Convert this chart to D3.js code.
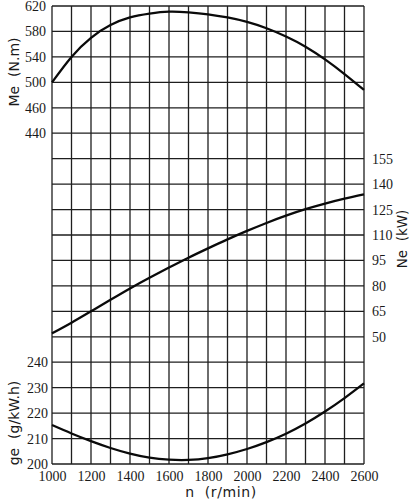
<!DOCTYPE html>
<html>
<head>
<meta charset="utf-8">
<script src="https://cdn.jsdelivr.net/npm/d3@7"></script>
<style>
  body { margin: 0; background: #fff; }
  svg { display: block; }
  .title { font-family: "DejaVu Sans", sans-serif; font-size: 14px; fill: #1a1a1a; white-space: pre; }
</style>
</head>
<body>
<svg id="chart"></svg>
<script>
const rpm = [1000, 1100, 1200, 1300, 1400, 1500, 1600, 1700, 1800, 1900, 2000, 2100, 2200, 2300, 2400, 2500, 2600];
const torque = [500, 540, 570, 590, 602, 608, 611, 610, 607, 602, 595, 585, 572, 556, 536, 513, 488];
const power = [52, 58.3, 65, 71.8, 78.5, 84.8, 90.8, 96.6, 102.1, 107.4, 112.4, 117.1, 121.4, 125.2, 128.5, 131.4, 134];
const fuel = [215.3, 212.0, 209.0, 206.3, 204.1, 202.5, 201.7, 201.6, 202.3, 203.8, 205.9, 208.6, 211.9, 215.9, 220.6, 225.9, 231.7];

const xTicks = [1000, 1200, 1400, 1600, 1800, 2000, 2200, 2400, 2600];
const meTicks = [620, 580, 540, 500, 460, 420];
const meTickLabels = ["620", "580", "540", "500", "460", "440"];
const neTicks = [155, 140, 125, 110, 95, 80, 65, 50];
const geTicks = [240, 230, 220, 210, 200];

const width = 410;
const height = 501;
const pLeft = 52, pRight = 364, pTop = 6, pBottom = 464;
const rows = 18;

const svg = d3.select("#chart").attr("width", width).attr("height", height);

const x = d3.scaleLinear().domain([1000, 2600]).range([pLeft, pRight]);
const yRow = d3.scaleLinear().domain([0, rows]).range([pTop, pBottom]);
// each row: 40 N.m, 15 kW, 10 g/kW.h
const yMe = d3.scaleLinear().domain([620, 620 - 40 * rows]).range([pTop, pBottom]);
const yNe = d3.scaleLinear().domain([155 + 15 * 6, 155 - 15 * 12]).range([pTop, pBottom]);
const yGe = d3.scaleLinear().domain([200 + 10 * rows, 200]).range([pTop, pBottom]);

// grid
const grid = svg.append("g").attr("stroke", "#1e1e1e").attr("stroke-width", 1.3);
grid.selectAll(".v")
  .data(d3.range(1000, 2601, 100))
  .enter()
  .append("line")
  .attr("x1", (d) => x(d))
  .attr("x2", (d) => x(d))
  .attr("y1", pTop)
  .attr("y2", pBottom);
grid.selectAll(".h")
  .data(d3.range(0, rows + 1))
  .enter()
  .append("line")
  .attr("x1", pLeft)
  .attr("x2", pRight)
  .attr("y1", (d) => yRow(d))
  .attr("y2", (d) => yRow(d));

// axes (labels only)
function clean(g) {
  g.select(".domain").remove();
  g.selectAll(".tick line").remove();
  g.selectAll(".tick text")
    .style("font-family", "'Liberation Serif', 'DejaVu Serif', serif")
    .style("font-size", "14px")
    .attr("fill", "#1a1a1a");
}

svg.append("g")
  .attr("transform", "translate(0," + (pBottom + 2) + ")")
  .call(d3.axisBottom(x).tickValues(xTicks).tickSize(0).tickPadding(5).tickFormat(d3.format("d")))
  .call(clean);

svg.append("g")
  .attr("transform", "translate(" + (pLeft - 6) + ",0)")
  .call(d3.axisLeft(yMe).tickValues(meTicks).tickSize(0).tickPadding(0).tickFormat((d, i) => meTickLabels[i]))
  .call(clean);

svg.append("g")
  .attr("transform", "translate(" + (pLeft - 4) + ",0)")
  .call(d3.axisLeft(yGe).tickValues(geTicks).tickSize(0).tickPadding(0))
  .call(clean);

svg.append("g")
  .attr("transform", "translate(" + (pRight + 8) + ",0)")
  .call(d3.axisRight(yNe).tickValues(neTicks).tickSize(0).tickPadding(0))
  .call(clean);

// curves
const line = (yScale, values) =>
  d3.line()
    .x((d, i) => x(rpm[i]))
    .y((d) => yScale(d))
    .curve(d3.curveNatural)(values);

[[yMe, torque], [yNe, power], [yGe, fuel]].forEach(([s, v]) => {
  svg.append("path")
    .attr("d", line(s, v))
    .attr("fill", "none")
    .attr("stroke", "#0a0a0a")
    .attr("stroke-width", 2.3);
});

// titles
svg.append("text").attr("class", "title")
  .attr("transform", "translate(19,72) rotate(-90)")
  .attr("text-anchor", "middle")
  .text("Me  (N.m)");

svg.append("text").attr("class", "title")
  .attr("transform", "translate(19,423) rotate(-90)")
  .attr("text-anchor", "middle")
  .text("ge  (g/kW.h)");

svg.append("text").attr("class", "title")
  .attr("transform", "translate(407,239) rotate(-90)")
  .attr("text-anchor", "middle")
  .style("font-size", "13.5px")
  .text("Ne  (kW)");

svg.append("text").attr("class", "title")
  .attr("x", 221)
  .attr("y", 497)
  .attr("text-anchor", "middle")
  .style("letter-spacing", "0.6px")
  .text("n  (r/min)");
</script>
</body>
</html>
